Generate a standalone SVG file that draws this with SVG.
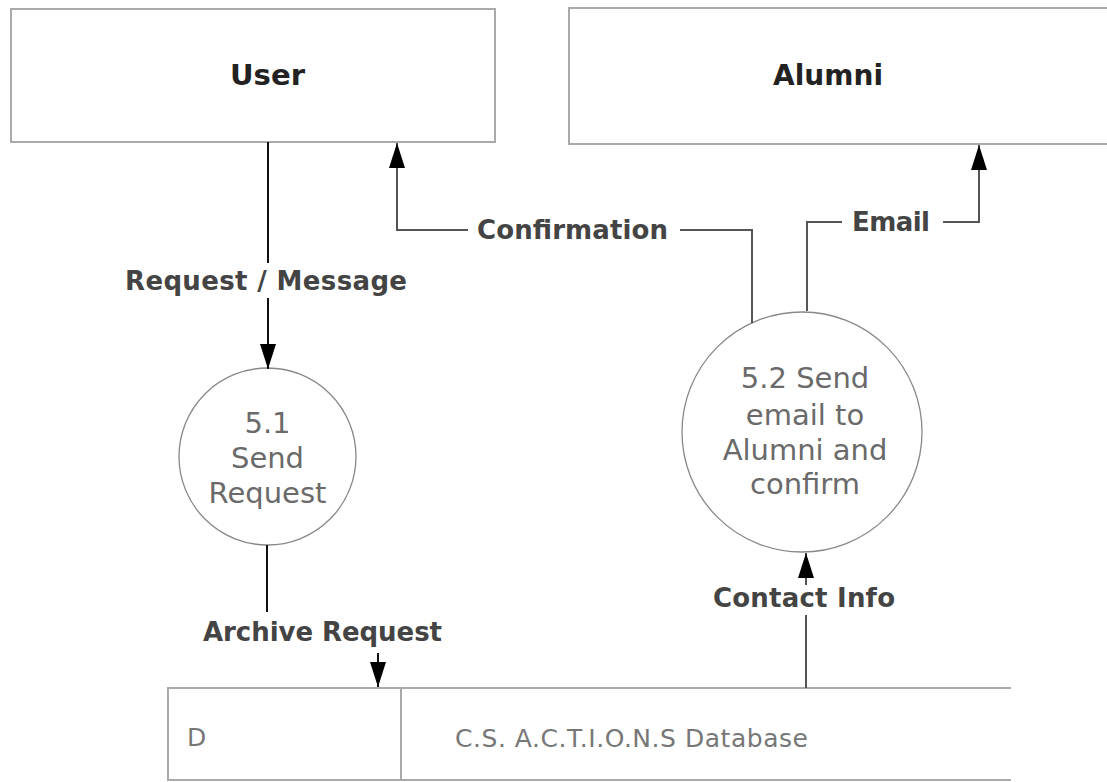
<svg xmlns="http://www.w3.org/2000/svg" width="1107" height="782" viewBox="0 0 1107 782">
<style>
.box{fill:#fff;stroke:#aaa;stroke-width:2}
.proc{fill:#fff;stroke:#888;stroke-width:1.3}
.ent{font-family:"DejaVu Sans",Verdana,sans-serif;font-weight:bold;font-size:29px;fill:#222}
.ptxt{font-family:"DejaVu Sans",Verdana,sans-serif;font-size:29px;fill:#6a6a6a;text-anchor:middle}
.lbl{font-family:"DejaVu Sans",Verdana,sans-serif;font-weight:bold;font-size:26px;fill:#444}
.ds{font-family:"DejaVu Sans",Verdana,sans-serif;font-size:25px;fill:#777}
.ln{fill:none;stroke:#555;stroke-width:2}
.lnk{fill:none;stroke:#111;stroke-width:2}
</style>
<defs>
<marker id="arr" markerUnits="userSpaceOnUse" markerWidth="26" markerHeight="20" viewBox="0 0 26 20" refX="25" refY="10" orient="auto">
<path d="M0,2 L25,10 L0,18 Z" fill="#000"/>
</marker>
</defs>
<rect width="1107" height="782" fill="#fff"/>

<g id="user">
<rect class="box" x="11" y="9" width="484" height="133"/>
<text class="ent" x="230" y="85" textLength="75" lengthAdjust="spacingAndGlyphs">User</text>
</g>

<g id="alumni">
<rect class="box" x="569" y="8" width="560" height="136"/>
<text class="ent" x="773" y="85" textLength="110" lengthAdjust="spacingAndGlyphs">Alumni</text>
</g>

<g id="p51">
<circle class="proc" cx="267.5" cy="456.5" r="88.5"/>
<text class="ptxt" x="267.5" y="433">5.1</text>
<text class="ptxt" x="267.5" y="468">Send</text>
<text class="ptxt" x="267.5" y="503">Request</text>
</g>

<g id="p52">
<circle class="proc" cx="802" cy="432" r="120"/>
<text class="ptxt" x="805" y="388">5.2 Send</text>
<text class="ptxt" x="805" y="425">email to</text>
<text class="ptxt" x="805" y="460">Alumni and</text>
<text class="ptxt" x="805" y="494">confirm</text>
</g>

<g id="datastore">
<path class="box" d="M1011,688 L168,688 L168,780 L1011,780" fill="none"/>
<line x1="401" y1="688" x2="401" y2="780" stroke="#aaa" stroke-width="2"/>
<text class="ds" x="187" y="746">D</text>
<text class="ds" x="455" y="747" textLength="353" lengthAdjust="spacing">C.S. A.C.T.I.O.N.S Database</text>
</g>

<g id="connectors">
<line class="lnk" x1="268" y1="142" x2="268" y2="263"/>
<line class="lnk" x1="268" y1="298" x2="268" y2="369" marker-end="url(#arr)"/>
<text class="lbl" x="125" y="290" textLength="282" lengthAdjust="spacing">Request / Message</text>

<line class="lnk" x1="267" y1="545" x2="267" y2="612"/>
<line class="lnk" x1="378" y1="653" x2="378" y2="687" marker-end="url(#arr)"/>
<text class="lbl" x="203" y="641" textLength="239" lengthAdjust="spacing">Archive Request</text>

<polyline class="ln" points="752,323 752,230 680,230"/>
<polyline class="ln" points="468,230 397,230 397,143" marker-end="url(#arr)"/>
<text class="lbl" x="477" y="239" textLength="191" lengthAdjust="spacing">Confirmation</text>

<polyline class="ln" points="807,311 807,222 842,222"/>
<polyline class="ln" points="943,222 979,222 979,145" marker-end="url(#arr)"/>
<text class="lbl" x="852" y="231" textLength="78" lengthAdjust="spacing">Email</text>

<line class="ln" x1="806" y1="688" x2="806" y2="615"/>
<line class="ln" x1="806" y1="585" x2="806" y2="553" marker-end="url(#arr)"/>
<text class="lbl" x="713" y="607" textLength="182" lengthAdjust="spacing">Contact Info</text>
</g>
</svg>
